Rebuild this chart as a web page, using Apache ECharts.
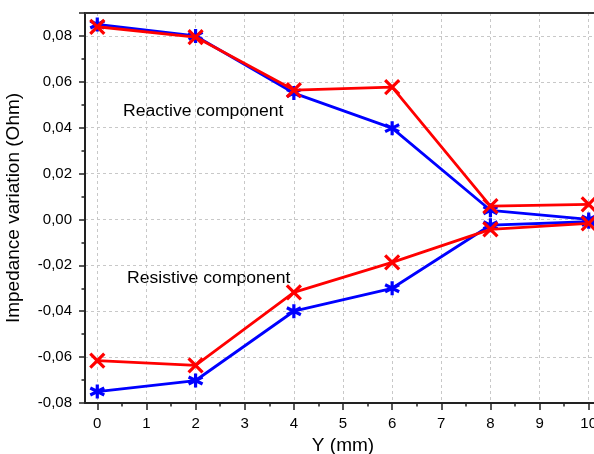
<!DOCTYPE html>
<html><head><meta charset="utf-8">
<script src="https://cdn.jsdelivr.net/npm/echarts@6/dist/echarts.min.js"></script>
<style>html,body{margin:0;padding:0;background:#fff}#c{width:594px;height:454px}</style>
</head><body><div id="c"></div>
<script>
const xVals = [0, 2, 4, 6, 8, 10];
const xTicks = [0, 1, 2, 3, 4, 5, 6, 7, 8, 9, 10];
const xMinorTicks = [0.5, 1.5, 2.5, 3.5, 4.5, 5.5, 6.5, 7.5, 8.5, 9.5];
const blueReactive = [0.085, 0.080, 0.0551, 0.0398, 0.004, 0.0];
const blueResistive = [-0.075, -0.0702, -0.040, -0.030, -0.0025, -0.001];
const redReactive = [0.084, 0.0795, 0.0564, 0.0577, 0.0058, 0.0066];
const redResistive = [-0.0615, -0.0636, -0.0318, -0.0187, -0.0043, -0.0017];
const annotations = ["Reactive component", "Resistive component"];

const FONT = '"Liberation Sans", Arial, sans-serif';
const asterisk = 'path://M5,0L5,10M0.7,2.5L9.3,7.5M0.7,7.5L9.3,2.5';
const cross = 'path://M0,0L10,10M10,0L0,10';

function pairs(ys){ return xVals.map((x,i)=>[x, ys[i]]); }
function ser(ys, color, sym, size){
  return {
    type:'line', data: pairs(ys), symbol: sym, symbolSize: size,
    lineStyle:{color:color, width:2.8},
    itemStyle:{color:color, borderColor:color, borderWidth:3.2},
    animation:false, z: color==='#ff0000'?3:2
  };
}
const fmt = v => v.toFixed(2).replace('.', ',');
const XMIN = -0.25, XMAX = 10.25;

const chart = echarts.init(document.getElementById('c'), null, {renderer:'canvas'});
chart.setOption({
  animation:false,
  grid:{left:85, right:-7, top:13, bottom:51, containLabel:false, outerBoundsMode:'none'},
  xAxis:[{
    type:'value', min:XMIN, max:XMAX,
    name:'Y (mm)', nameLocation:'middle', nameGap:30,
    nameTextStyle:{fontFamily:FONT, fontSize:19, color:'#000'},
    axisLine:{show:true, onZero:false, lineStyle:{color:'#222', width:2}},
    axisTick:{show:true, length:7, customValues:xTicks, lineStyle:{color:'#222', width:1.5}},
    axisLabel:{fontFamily:FONT, fontSize:15, color:'#000', margin:13, customValues:xTicks,
      formatter: v => String(Math.round(v))},
    splitLine:{show:true, lineStyle:{color:'#c8c8c8', type:[3,3], width:1}}
  },{
    type:'value', position:'top', min:XMIN, max:XMAX,
    axisLine:{show:true, onZero:false, lineStyle:{color:'#333', width:2}},
    axisTick:{show:false}, axisLabel:{show:false}, splitLine:{show:false}
  },{
    type:'value', position:'bottom', min:XMIN, max:XMAX,
    axisLine:{show:false, onZero:false},
    axisTick:{show:true, length:3.5, customValues:xMinorTicks, lineStyle:{color:'#222', width:1.5}},
    axisLabel:{show:false}, splitLine:{show:false}
  }],
  yAxis:[{
    type:'value', min:-0.08, max:0.09, interval:0.02,
    name:'Impedance variation (Ohm)', nameLocation:'middle', nameGap:62,
    nameTextStyle:{fontFamily:FONT, fontSize:19, color:'#000'},
    axisLine:{show:true, onZero:false, lineStyle:{color:'#222', width:2}},
    axisTick:{show:true, length:6, lineStyle:{color:'#222', width:1.5}},
    minorTick:{show:true, splitNumber:2, length:3.5, lineStyle:{color:'#222', width:1.5}},
    axisLabel:{fontFamily:FONT, fontSize:15, color:'#000', margin:13,
      formatter: v => v>0.085 ? '' : fmt(v)},
    splitLine:{show:true, lineStyle:{color:'#c8c8c8', type:[3,3], width:1}}
  }],
  series:[
    ser(blueReactive, '#0000ff', asterisk, 14),
    ser(blueResistive, '#0000ff', asterisk, 14),
    ser(redReactive, '#ff0000', cross, 14),
    ser(redResistive, '#ff0000', cross, 14)
  ],
  graphic:[
    {type:'text', left:123, top:104, scaleX:1.1, style:{text:annotations[0], font:'16px "Liberation Sans", Arial, sans-serif', fill:'#000'}},
    {type:'text', left:127, top:271, scaleX:1.1, style:{text:annotations[1], font:'16px "Liberation Sans", Arial, sans-serif', fill:'#000'}}
  ]
});
</script></body></html>
